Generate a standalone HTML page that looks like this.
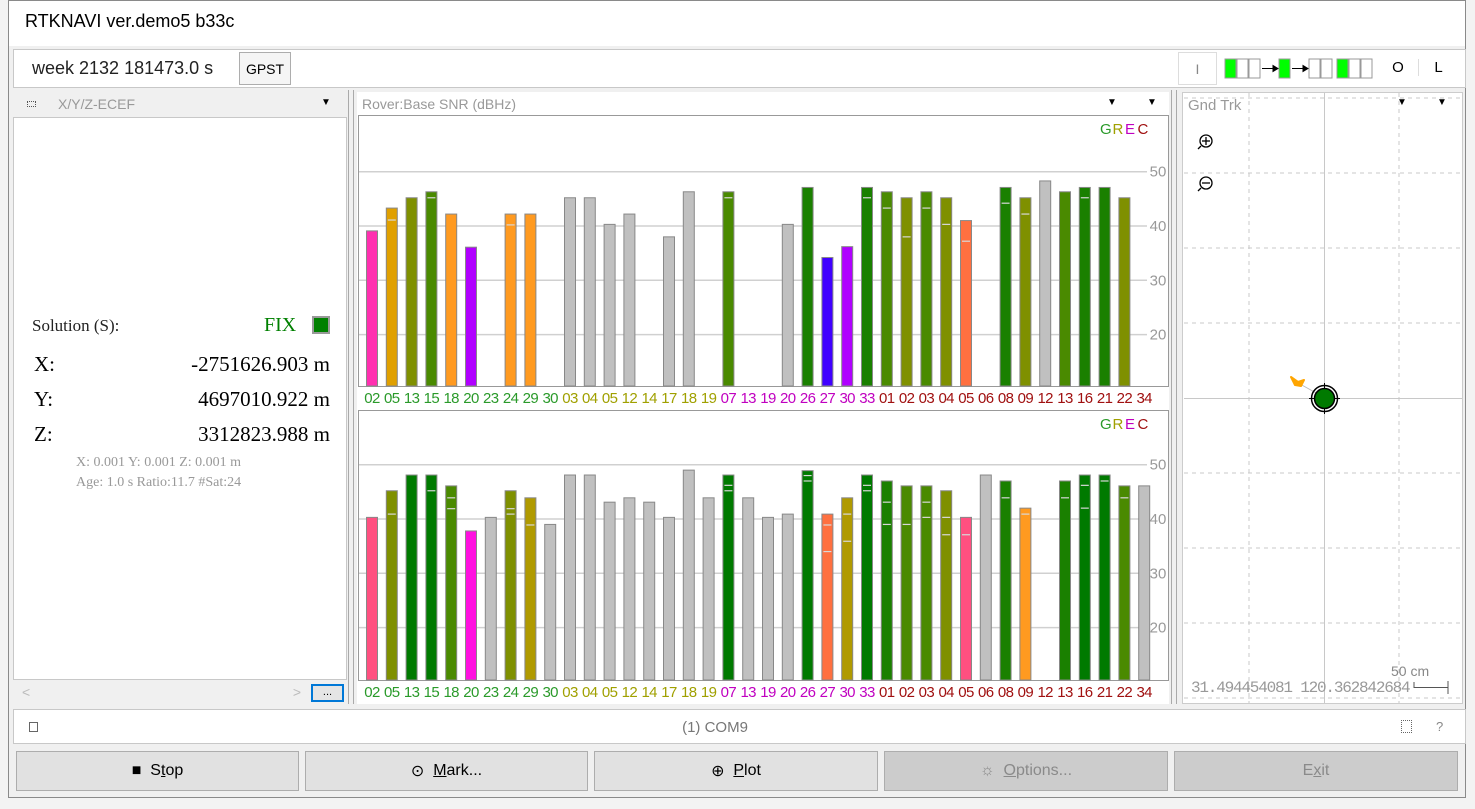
<!DOCTYPE html>
<html><head><meta charset="utf-8">
<style>
body{margin:0;width:1475px;height:809px;background:#f3f3f3;position:relative;overflow:hidden;font-family:"Liberation Sans",sans-serif}
.a{position:absolute;box-sizing:border-box}
.btn{background:#e1e1e1;border:1px solid #adadad;font-size:16px;color:#000;display:flex;align-items:center;justify-content:center}
.dis{background:#cccccc;color:#8a8a8a}
.serif{font-family:"Liberation Serif",serif}
</style></head><body>
<div class="a" style="left:8px;top:0;width:1458px;height:798px;background:#f0f0f0;border:1px solid #8a8a8a"></div>
<div class="a" style="left:9px;top:1px;width:1456px;height:45px;background:#fff"></div>
<div class="a" style="left:25px;top:11px;font-size:18px;color:#000">RTKNAVI ver.demo5 b33c</div>

<div class="a" style="left:13px;top:49px;width:1453px;height:39px;background:#fff;border:1px solid #c8c8c8"></div>
<div class="a" style="left:32px;top:58px;font-size:18px;color:#222">week 2132 181473.0 s</div>
<div class="a btn" style="left:239px;top:52px;width:52px;height:33px;font-size:14px;background:#f5f5f5">GPST</div>
<div class="a btn" style="left:1178px;top:52px;width:39px;height:33px;background:#fff;border-color:#ddd;font-size:14px;color:#888" >I</div>
<svg class="a" style="left:1220px;top:53px" width="160" height="32">
<g stroke="#999" fill="#fff">
<rect x="5" y="6" width="11" height="19" fill="#00ff00"/><rect x="17" y="6" width="11" height="19"/><rect x="29" y="6" width="11" height="19"/>
<rect x="59" y="6" width="11" height="19" fill="#00ff00"/>
<rect x="89" y="6" width="11" height="19"/><rect x="101" y="6" width="11" height="19"/>
<rect x="117" y="6" width="11" height="19" fill="#00ff00"/><rect x="129" y="6" width="11" height="19"/><rect x="141" y="6" width="11" height="19"/></g>
<g stroke="#000" fill="#000"><line x1="42" y1="15.5" x2="55" y2="15.5"/><path d="M58 15.5l-5-3v6z"/><line x1="72" y1="15.5" x2="85" y2="15.5"/><path d="M88 15.5l-5-3v6z"/></g>
</svg>
<div class="a" style="left:1380px;top:59px;width:36px;text-align:center;font-size:15px">O</div>
<div class="a" style="left:1418px;top:59px;width:40px;text-align:center;font-size:15px;border-left:1px solid #ddd">L</div>

<!-- left panel -->
<div class="a" style="left:14px;top:92px;width:332px;height:24px"></div>
<div class="a" style="left:27px;top:101px;width:9px;height:6px;border:1px dotted #555"></div>
<div class="a" style="left:58px;top:96px;font-size:14px;color:#999">X/Y/Z-ECEF</div>
<div class="a" style="left:321px;top:97px;font-size:10px">▼</div>
<div class="a" style="left:13px;top:117px;width:334px;height:563px;background:#fff;border:1px solid #c8c8c8"></div>
<div class="a serif" style="left:32px;top:316px;font-size:17px;color:#222">Solution (S):</div>
<div class="a serif" style="left:264px;top:314px;font-size:20px;color:#008000">FIX</div>
<div class="a" style="left:312px;top:316px;width:18px;height:18px;background:#008000;border:2px solid #999"></div>
<div class="a serif" style="left:34px;top:352px;font-size:21px">X:</div>
<div class="a serif" style="left:100px;top:352px;width:230px;text-align:right;font-size:21px">-2751626.903 m</div>
<div class="a serif" style="left:34px;top:387px;font-size:21px">Y:</div>
<div class="a serif" style="left:100px;top:387px;width:230px;text-align:right;font-size:21px">4697010.922 m</div>
<div class="a serif" style="left:34px;top:422px;font-size:21px">Z:</div>
<div class="a serif" style="left:100px;top:422px;width:230px;text-align:right;font-size:21px">3312823.988 m</div>
<div class="a serif" style="left:76px;top:455px;font-size:14px;color:#999">X: 0.001 Y: 0.001 Z: 0.001 m</div>
<div class="a serif" style="left:76px;top:475px;font-size:14px;color:#999">Age: 1.0 s Ratio:11.7 #Sat:24</div>
<div class="a" style="left:14px;top:682px;width:295px;height:21px;background:#f0f0f0;color:#bbb;font-size:14px;padding:2px 8px">&lt;<span style="float:right">&gt;</span></div>
<div class="a" style="left:311px;top:684px;width:33px;height:18px;border:2px solid #0078d7;background:#e5e5e5;font-size:11px;text-align:center;line-height:12px">...</div>

<div class="a" style="left:348px;top:90px;width:6px;height:614px;border-left:1px solid #aaa;border-right:1px solid #aaa"></div>
<div class="a" style="left:1171px;top:90px;width:6px;height:614px;border-left:1px solid #aaa;border-right:1px solid #aaa"></div>

<!-- middle -->
<div class="a" style="left:357px;top:92px;width:812px;height:612px;background:#fff"></div>
<div class="a" style="left:362px;top:96px;font-size:14px;color:#999">Rover:Base SNR (dBHz)</div>
<div class="a" style="left:1107px;top:97px;font-size:10px">▼</div>
<div class="a" style="left:1147px;top:97px;font-size:10px">▼</div>
<svg class="a" id="snr" style="left:0;top:0" width="1475" height="809"></svg>

<!-- ground track -->
<div class="a" style="left:1182px;top:92px;width:281px;height:612px;background:#fff;border:1px solid #ccc"></div>
<svg class="a" style="left:0;top:0" width="1475" height="809">
<g stroke="#c8c8c8" stroke-dasharray="4,4" stroke-width="1">
<line x1="1184" y1="98" x2="1462" y2="98"/><line x1="1184" y1="173" x2="1462" y2="173"/><line x1="1184" y1="248" x2="1462" y2="248"/><line x1="1184" y1="323" x2="1462" y2="323"/>
<line x1="1184" y1="473" x2="1462" y2="473"/><line x1="1184" y1="548" x2="1462" y2="548"/><line x1="1184" y1="623" x2="1462" y2="623"/><line x1="1184" y1="698" x2="1462" y2="698"/>
<line x1="1249" y1="93" x2="1249" y2="703"/><line x1="1399" y1="93" x2="1399" y2="703"/></g>
<g stroke="#c8c8c8"><line x1="1184" y1="398.5" x2="1462" y2="398.5"/><line x1="1324.5" y1="93" x2="1324.5" y2="703"/></g>
<line x1="1300" y1="384" x2="1318" y2="394" stroke="#bbb"/>
<path d="M1291 377l7 5l6-2l-3 6l-6-1z" fill="#ffa500" stroke="#ffa500" stroke-width="2" stroke-linejoin="round"/>
<circle cx="1324.5" cy="398.5" r="13" fill="none" stroke="#000" stroke-width="1.5"/>
<circle cx="1324.5" cy="398.5" r="10" fill="#007a00" stroke="#000" stroke-width="1.5"/>
<g stroke="#000"><line x1="1324.5" y1="383" x2="1324.5" y2="388"/><line x1="1324.5" y1="409" x2="1324.5" y2="414"/><line x1="1309" y1="398.5" x2="1314" y2="398.5"/><line x1="1335" y1="398.5" x2="1340" y2="398.5"/></g>
<line x1="1414" y1="687.5" x2="1448" y2="687.5" stroke="#555"/><line x1="1448" y1="681" x2="1448" y2="694" stroke="#555"/><line x1="1414" y1="682" x2="1414" y2="688" stroke="#555"/>
<g fill="none" stroke="#000" stroke-width="1.3"><circle cx="1206" cy="141" r="6"/><line x1="1202" y1="141" x2="1210" y2="141"/><line x1="1206" y1="137" x2="1206" y2="145"/><line x1="1201" y1="146" x2="1198" y2="149"/>
<circle cx="1206" cy="183" r="6"/><line x1="1202" y1="183" x2="1210" y2="183"/><line x1="1201" y1="188" x2="1198" y2="191"/></g>
</svg>
<div class="a" style="left:1188px;top:97px;font-size:15px;color:#999">Gnd Trk</div>
<div class="a" style="left:1196px;top:131px;width:20px;height:20px"></div>
<div class="a" style="left:1196px;top:173px;width:20px;height:20px"></div>
<div class="a" style="left:1397px;top:97px;font-size:10px">▼</div>
<div class="a" style="left:1437px;top:97px;font-size:10px">▼</div>
<div class="a" style="left:1391px;top:663px;font-size:14px;color:#888">50 cm</div>
<div class="a" style="left:1191px;top:679px;font-size:16px;color:#999;font-family:'Liberation Mono',monospace;letter-spacing:-1.2px">31.494454081 120.362842684</div>

<!-- status -->
<div class="a" style="left:13px;top:709px;width:1453px;height:35px;background:#fff;border:1px solid #c8c8c8"></div>
<div class="a" style="left:29px;top:722px;width:9px;height:10px;border:1px solid #666"></div>
<div class="a" style="left:640px;top:719px;width:150px;text-align:center;font-size:15px;color:#777">(1) COM9</div>
<div class="a" style="left:1401px;top:720px;width:11px;height:13px;border:1px dotted #666"></div>
<div class="a" style="left:1436px;top:719px;font-size:13px;color:#888">?</div>

<!-- buttons -->
<div class="a btn" style="left:16px;top:751px;width:283px;height:40px">■&nbsp;&nbsp;S<u>t</u>op</div>
<div class="a btn" style="left:305px;top:751px;width:283px;height:40px">⊙&nbsp;&nbsp;<u>M</u>ark...</div>
<div class="a btn" style="left:594px;top:751px;width:284px;height:40px">⊕&nbsp;&nbsp;<u>P</u>lot</div>
<div class="a btn dis" style="left:884px;top:751px;width:284px;height:40px">☼&nbsp;&nbsp;<u>O</u>ptions...</div>
<div class="a btn dis" style="left:1174px;top:751px;width:284px;height:40px">E<u>x</u>it</div>

<script>
const sats = ["02","05","13","15","18","20","23","24","29","30","03","04","05","12","14","17","18","19","07","13","19","20","26","27","30","33","01","02","03","04","05","06","08","09","12","13","16","21","22","34"];
const systems = ["G","G","G","G","G","G","G","G","G","G","R","R","R","R","R","R","R","R","E","E","E","E","E","E","E","E","C","C","C","C","C","C","C","C","C","C","C","C","C","C"];
const topSnr = [39.1,43.3,45.2,46.3,42.2,36.1,0,42.2,42.2,0,45.2,45.2,40.3,42.2,0,38,46.3,0,46.3,0,0,40.3,47.1,34.2,36.2,47.1,46.3,45.2,46.3,45.2,41,0,47.1,45.2,48.3,46.3,47.1,47.1,45.2,0];
const topBase = [[],[41.1],[],[45.2],[],[],[],[40.2],[],[],[],[],[],[],[],[],[],[],[45.2],[],[],[],[],[],[],[45.2],[43.3],[38],[43.3],[40.3],[37.2],[],[44.2],[42.2],[],[],[45.2],[],[],[]];
const botSnr = [40.3,45.2,48.1,48.1,46.1,37.8,40.3,45.2,43.9,39,48.1,48.1,43.1,43.9,43.1,40.3,49,43.9,48.1,43.9,40.3,40.9,48.9,40.9,43.9,48.1,47,46.1,46.1,45.2,40.3,48.1,47,42,0,47,48.1,48.1,46.1,46.1];
const botBase = [[],[40.9],[],[45.2],[43.9,41.9],[],[],[41.9,40.9],[38.9],[],[],[],[],[],[],[],[],[],[46.2,45.2],[],[],[],[48,47],[38.9,34],[40.9,35.9],[46.2,45.2],[43.1,39],[39],[43.1,40.3],[40.3,37.1],[37.1],[],[43.9],[40.9],[],[43.9],[46.2,42],[47],[43.9],[]];
const yTicks = [50,40,30,20];
const legend = ["G","R","E","C"];
const GR="#c0c0c0";
const topColors = ["#ff30b0","#e0a000","#7f9000","#4a8a00","#ff9a20","#b000ff",null,"#ff9a20","#ff9a20",null,GR,GR,GR,GR,null,GR,GR,null,"#4a8a00",null,null,GR,"#1a8000","#4000ff","#b000ff","#1a8000","#4a8a00","#7f9000","#4a8a00","#7f9000","#ff7040",null,"#1a8000","#7f9000",GR,"#4a8a00","#1a8000","#1a8000","#7f9000",null];
const botColors = ["#ff5080","#7f9000","#007a00","#007a00","#4a8a00","#ff10e0",GR,"#7f9000","#b09a00",GR,GR,GR,GR,GR,GR,GR,GR,GR,"#007a00",GR,GR,GR,"#007a00","#ff7040","#b09a00","#007a00","#1a8000","#4a8a00","#4a8a00","#7f9000","#ff5080",GR,"#1a8000","#ff9a20",null,"#1a8000","#007a00","#007a00","#4a8a00",GR];
const sysColor = {G:"#2a9a2a",R:"#a0a000",E:"#c000c0",C:"#a01010"};

const svg = document.getElementById('snr');
const NS = "http://www.w3.org/2000/svg";
function mk(tag, attrs){const e=document.createElementNS(NS,tag);for(const k in attrs)e.setAttribute(k,attrs[k]);svg.appendChild(e);return e;}
function xAt(i){return 372 + 19.8*i;}
function drawChart(top, base40, bottom, snr, base, colors, key){
  const yAt = v => base40 - (v-40)*5.43;
  const box = mk('rect',{x:358.5,y:top+0.5,width:810,height:bottom-top,fill:'#fff',stroke:'#999'});
  
  
  yTicks.forEach(t=>{
    const y=yAt(t);
    const l=mk('line',{x1:359,y1:y,x2:1147,y2:y,stroke:'#d0d0d0','stroke-width':1.5});
    
    
    const tx=mk('text',{x:1158,y:y+5,'text-anchor':'middle','font-size':15,fill:'#999','font-family':'Liberation Sans,sans-serif'});
    tx.textContent=t;
    
    
  });
  legend.forEach((s,j)=>{
    const t=mk('text',{x:1100+j*12.5,y:top+19,'font-size':15,fill:sysColor[s],'font-family':'Liberation Sans,sans-serif'});
    t.textContent=s;
    
    
  });
  snr.forEach((v,i)=>{
    if(v>0 && colors[i]){
      const y=yAt(v);
      const r=mk('rect',{x:xAt(i)-5.5,y:y,width:11,height:bottom-y,fill:colors[i],stroke:'#888','stroke-width':1});
      
      
      base[i].forEach(b=>{
        const m=mk('line',{x1:xAt(i)-4,y1:yAt(b),x2:xAt(i)+4,y2:yAt(b),stroke:'#d8d8d8','stroke-width':1.2});
        
        
      });
    }
    const t=mk('text',{x:xAt(i),y:bottom+17,'text-anchor':'middle','font-size':15,'letter-spacing':'-0.6',fill:sysColor[systems[i]],'font-family':'Liberation Sans,sans-serif'});
    t.textContent=sats[i];
    
    
  });
}
drawChart(115, 226, 386, topSnr, topBase, topColors, 'rover-snr');
drawChart(410, 519, 680, botSnr, botBase, botColors, 'base-snr');
</script>
</body></html>
